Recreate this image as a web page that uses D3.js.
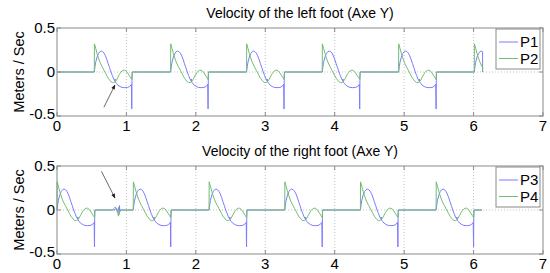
<!DOCTYPE html>
<html>
<head>
  <meta charset="utf-8">
  <script src="https://d3js.org/d3.v7.min.js"></script>
  <style>
    body { margin: 0; background: #fff; }
    svg { font-family: "Liberation Sans", Arial, sans-serif; }
  </style>
</head>
<body>
<div id="chart"></div>
<script>
  // one step cycle: time since cycle start (s) and velocity (m/s)
  var blueTau = [0, 0.01, 0.02, 0.04, 0.06, 0.08, 0.10, 0.12, 0.14, 0.16, 0.18, 0.20, 0.22, 0.24, 0.26, 0.28, 0.295, 0.30, 0.305, 0.32, 0.34, 0.37, 0.40, 0.44, 0.48, 0.51, 0.535, 0.54, 0.543, 0.546];
  var blueVal = [0, 0.06, 0.11, 0.17, 0.21, 0.23, 0.238, 0.232, 0.215, 0.185, 0.145, 0.095, 0.05, 0.0, -0.04, -0.08, -0.10, -0.08, -0.115, -0.13, -0.15, -0.165, -0.175, -0.178, -0.175, -0.165, -0.14, -0.42, -0.1, 0];
  var greenTau = [0, 0.002, 0.02, 0.04, 0.06, 0.08, 0.10, 0.12, 0.14, 0.16, 0.18, 0.20, 0.22, 0.24, 0.26, 0.28, 0.30, 0.32, 0.34, 0.36, 0.38, 0.40, 0.42, 0.44, 0.46, 0.48, 0.50, 0.52, 0.54, 0.546];
  var greenVal = [0, 0.32, 0.27, 0.21, 0.16, 0.115, 0.08, 0.05, 0.02, -0.01, -0.04, -0.07, -0.09, -0.11, -0.12, -0.12, -0.11, -0.09, -0.06, -0.03, -0.005, 0.012, 0.02, 0.02, 0.01, -0.01, -0.035, -0.06, -0.085, 0];

  // cycle start times and end of recording
  var leftStarts = [0.537, 1.636, 2.73, 3.82, 4.92, 6.01];
  var leftEnd = 6.13;
  var rightStarts = [0, 1.098, 2.19, 3.28, 4.37, 5.46];
  var rightEnd = 6.12;

  // small disturbance between steps on the right foot
  var glitchBlueT = [0.83, 0.85, 0.87, 0.89, 0.895, 0.90, 0.905, 0.92];
  var glitchBlueV = [0, 0.02, -0.02, 0.03, -0.05, 0.05, -0.02, 0];
  var glitchGreenT = [0.80, 0.82, 0.84, 0.86, 0.875, 0.885, 0.895, 0.91];
  var glitchGreenV = [0, 0.02, 0.035, 0.01, -0.04, -0.07, -0.02, 0];

  var xTicks = [0, 1, 2, 3, 4, 5, 6, 7];
  var yTicks = [-0.5, 0, 0.5];

  // annotation arrows [t0, v0, t1, v1]
  var leftArrow = [0.676, -0.40, 0.835, -0.148];
  var rightArrow = [0.64, 0.44, 0.835, 0.136];

  var blue = "#7b7bff", green = "#72bd72";

  var width = 550, height = 273;
  var svg = d3.select("#chart").append("svg")
    .attr("width", width).attr("height", height);

  var defs = svg.append("defs");
  defs.append("marker")
    .attr("id", "arrow")
    .attr("viewBox", "0 0 10 10")
    .attr("refX", 9).attr("refY", 5)
    .attr("markerWidth", 6).attr("markerHeight", 6)
    .attr("orient", "auto")
    .append("path")
      .attr("d", "M0,1 L10,5 L0,9 Z")
      .style("fill", "#222");

  // build a series: zero between steps, repeated cycle during each step
  function buildSeries(starts, end, tau, val, gT, gV) {
    var pts = [{t: 0, v: 0}];
    var extra = [];
    if (gT) extra = gT.map(function (t, i) { return {t: t, v: gV[i]}; });
    starts.forEach(function (s, k) {
      var prevEnd = k == 0 ? 0 : starts[k - 1] + tau[tau.length - 1];
      extra.forEach(function (p) { if (p.t > prevEnd && p.t < s) pts.push(p); });
      tau.forEach(function (t, i) { pts.push({t: s + t, v: val[i]}); });
    });
    pts.push({t: end, v: 0});
    return pts.filter(function (p) { return p.t <= end; });
  }

  function panel(top, title, starts, end, names, arrow, glitch) {
    var left = 57, right = 543, h = 88;
    var x = d3.scaleLinear().domain([0, 7]).range([left, right]);
    var y = d3.scaleLinear().domain([-0.5, 0.5]).range([top + h, top]);
    var g = svg.append("g");

    // grid
    g.selectAll(".vgrid").data(xTicks.slice(1, -1)).enter().append("line")
      .attr("x1", function (d) { return x(d); }).attr("x2", function (d) { return x(d); })
      .attr("y1", top).attr("y2", top + h)
      .style("stroke", "#c4c4c4").style("stroke-dasharray", "1,2");
    g.append("line")
      .attr("x1", left).attr("x2", right).attr("y1", y(0)).attr("y2", y(0))
      .style("stroke", "#c4c4c4").style("stroke-dasharray", "1,2");

    var line = d3.line()
      .x(function (d) { return x(d.t); })
      .y(function (d) { return y(d.v); });

    var b = buildSeries(starts, end, blueTau, blueVal, glitch ? glitchBlueT : null, glitchBlueV);
    var gr = buildSeries(starts, end, greenTau, greenVal, glitch ? glitchGreenT : null, glitchGreenV);
    g.append("path").datum(b).attr("d", line)
      .style("fill", "none").style("stroke", blue).style("stroke-width", 1);
    g.append("path").datum(gr).attr("d", line)
      .style("fill", "none").style("stroke", green).style("stroke-width", 1);

    // frame and ticks
    g.append("rect").attr("x", left).attr("y", top).attr("width", right - left).attr("height", h)
      .style("fill", "none").style("stroke", "#8a8a8a").style("stroke-width", 1);
    xTicks.forEach(function (d) {
      g.append("line").attr("x1", x(d)).attr("x2", x(d)).attr("y1", top + h).attr("y2", top + h - 4)
        .style("stroke", "#8a8a8a");
      g.append("line").attr("x1", x(d)).attr("x2", x(d)).attr("y1", top).attr("y2", top + 4)
        .style("stroke", "#8a8a8a");
    });
    yTicks.forEach(function (d) {
      g.append("line").attr("x1", left).attr("x2", left + 4).attr("y1", y(d)).attr("y2", y(d))
        .style("stroke", "#8a8a8a");
      g.append("line").attr("x1", right).attr("x2", right - 4).attr("y1", y(d)).attr("y2", y(d))
        .style("stroke", "#8a8a8a");
    });

    // tick labels
    g.selectAll(".xl").data(xTicks).enter().append("text")
      .attr("x", function (d) { return x(d); })
      .attr("y", top + h + 15)
      .attr("text-anchor", "middle")
      .style("font-size", "15px")
      .text(function (d) { return d; });
    g.selectAll(".yl").data(yTicks).enter().append("text")
      .attr("x", left - 2)
      .attr("y", function (d) { return d == -0.5 ? y(d) - 2 : y(d); })
      .attr("dy", "0.35em")
      .attr("text-anchor", "end")
      .style("font-size", "15px")
      .text(function (d) { return d; });

    g.append("text")
      .attr("transform", "translate(24," + (top + h / 2) + ") rotate(-90)")
      .attr("text-anchor", "middle")
      .style("font-size", "14.5px")
      .text("Meters / Sec");

    g.append("text")
      .attr("x", (left + right) / 2).attr("y", top - 10)
      .attr("text-anchor", "middle")
      .style("font-size", "14px")
      .text(title);

    // arrow
    g.append("line")
      .attr("x1", x(arrow[0])).attr("y1", y(arrow[1]))
      .attr("x2", x(arrow[2])).attr("y2", y(arrow[3]))
      .style("stroke", "#444").style("stroke-width", 0.8)
      .attr("marker-end", "url(#arrow)");

    // legend
    var lx = 496, ly = top + 1;
    g.append("rect").attr("x", lx).attr("y", ly).attr("width", 44).attr("height", 40)
      .style("fill", "#fff").style("stroke", "#8a8a8a");
    [blue, green].forEach(function (c, i) {
      var yy = ly + 13 + i * 16.5;
      g.append("line").attr("x1", lx + 3).attr("x2", lx + 22).attr("y1", yy).attr("y2", yy)
        .style("stroke", c);
      g.append("text").attr("x", lx + 24).attr("y", yy).attr("dy", "0.35em")
        .style("font-size", "15px").text(names[i]);
    });
  }

  panel(28, "Velocity of the left foot (Axe Y)", leftStarts, leftEnd, ["P1", "P2"], leftArrow, false);
  panel(166, "Velocity of the right foot (Axe Y)", rightStarts, rightEnd, ["P3", "P4"], rightArrow, true);
</script>
</body>
</html>
